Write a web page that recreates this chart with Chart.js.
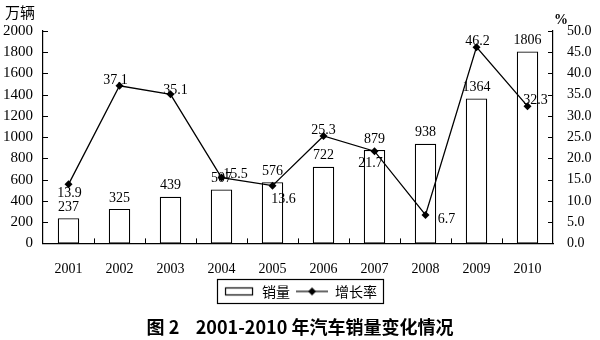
<!DOCTYPE html>
<html>
<head>
<meta charset="utf-8">
<script src="https://cdn.jsdelivr.net/npm/chart.js@4"></script>
<style>
  html, body { margin: 0; padding: 0; background: #fff; }
  #wrap { width: 600px; height: 340px; }
</style>
</head>
<body>
<div id="wrap"><canvas id="salesChart" width="600" height="340"></canvas></div>
<script>
const years = ["2001", "2002", "2003", "2004", "2005", "2006", "2007", "2008", "2009", "2010"];
const sales = [237, 325, 439, 507, 576, 722, 879, 938, 1364, 1806];
const growth = [13.9, 37.1, 35.1, 15.5, 13.6, 25.3, 21.7, 6.7, 46.2, 32.3];

const salesTitle = "销量";
const growthTitle = "增长率";
const leftUnit = "万辆";
const rightUnit = "%";
const chartTitle = "图 2    2001-2010 年汽车销量变化情况";

const numFont = "'Liberation Serif', 'DejaVu Serif', serif";
const cjkFont = "'Noto Sans CJK SC', sans-serif";

// where each growth label sits relative to its point
const growthLabelShift = [
  [1, 9], [-4, -5], [5, -4], [14, -3], [11, 14],
  [0, -6], [-4, 12], [21, 4], [1, -6], [8, -6]
];

// little legend swatches: an open box and a line with a diamond
function makeSwatch(kind) {
  const c = document.createElement("canvas");
  c.width = 32;
  c.height = 12;
  const g = c.getContext("2d");
  g.strokeStyle = "#000";
  g.fillStyle = "#000";
  g.lineWidth = 1.2;
  if (kind === "box") {
    g.strokeRect(2.5, 2.5, 27, 7);
  } else {
    g.beginPath();
    g.moveTo(0, 6);
    g.lineTo(32, 6);
    g.stroke();
    g.beginPath();
    g.moveTo(16, 2);
    g.lineTo(20, 6);
    g.lineTo(16, 10);
    g.lineTo(12, 6);
    g.closePath();
    g.fill();
  }
  return c;
}

const boxSwatch = makeSwatch("box");
const lineSwatch = makeSwatch("line");

// inward tick marks on the three axes
const innerTicks = {
  id: "innerTicks",
  afterDraw(chart) {
    const ctx = chart.ctx;
    const area = chart.chartArea;
    const x = chart.scales.x;
    const y = chart.scales.y;
    const y1 = chart.scales.y1;
    ctx.save();
    ctx.strokeStyle = "#000";
    ctx.lineWidth = 1;
    ctx.beginPath();
    y.ticks.forEach((t) => {
      const py = Math.round(y.getPixelForValue(t.value)) + 0.5;
      ctx.moveTo(area.left, py);
      ctx.lineTo(area.left + 5, py);
    });
    y1.ticks.forEach((t) => {
      const py = Math.round(y1.getPixelForValue(t.value)) + 0.5;
      ctx.moveTo(area.right, py);
      ctx.lineTo(area.right - 5, py);
    });
    const step = x.getPixelForValue(1) - x.getPixelForValue(0);
    for (let i = 1; i < years.length; i++) {
      const px = Math.round(x.getPixelForValue(i) - step / 2) + 0.5;
      ctx.moveTo(px, area.bottom);
      ctx.lineTo(px, area.bottom - 5);
    }
    ctx.stroke();

    // unit captions
    ctx.fillStyle = "#000";
    ctx.font = "15px " + cjkFont;
    ctx.textAlign = "center";
    ctx.textBaseline = "middle";
    ctx.fillText(leftUnit, 20, 12);
    ctx.font = "bold 14px " + numFont;
    ctx.fillText(rightUnit, 561, 20);
    ctx.restore();
  }
};

// value labels over bars and beside points
const valueLabels = {
  id: "valueLabels",
  afterDatasetsDraw(chart) {
    const ctx = chart.ctx;
    ctx.save();
    ctx.fillStyle = "#000";
    ctx.font = "14px " + numFont;
    ctx.textAlign = "center";

    ctx.textBaseline = "bottom";
    chart.getDatasetMeta(0).data.forEach((el, i) => {
      ctx.fillText(String(sales[i]), el.x, el.y - 4);
    });

    ctx.textBaseline = "middle";
    chart.getDatasetMeta(1).data.forEach((el, i) => {
      const s = growthLabelShift[i];
      ctx.fillText(growth[i].toFixed(1), el.x + s[0], el.y + s[1]);
    });
    ctx.restore();
  }
};

// frame around the legend
const legendFrame = {
  id: "legendFrame",
  afterDraw(chart) {
    const boxes = chart.legend.legendHitBoxes;
    if (!boxes || !boxes.length) return;
    const left = Math.min(...boxes.map((b) => b.left)) - 6;
    const right = Math.max(...boxes.map((b) => b.left + b.width)) + 6;
    const top = Math.min(...boxes.map((b) => b.top)) - 5;
    const bottom = Math.max(...boxes.map((b) => b.top + b.height)) + 5;
    const ctx = chart.ctx;
    ctx.save();
    ctx.strokeStyle = "#000";
    ctx.lineWidth = 1.2;
    ctx.strokeRect(Math.round(left) + 0.5, Math.round(top) + 0.5, Math.round(right - left), Math.round(bottom - top));
    ctx.restore();
  }
};

new Chart(document.getElementById("salesChart"), {
  type: "bar",
  data: {
    labels: years,
    datasets: [
      {
        type: "bar",
        label: salesTitle,
        data: sales,
        yAxisID: "y",
        backgroundColor: "#fff",
        borderColor: "#000",
        borderWidth: 1.2,
        borderSkipped: false,
        categoryPercentage: 1,
        barPercentage: 0.42,
        order: 2,
      },
      {
        type: "line",
        label: growthTitle,
        data: growth,
        yAxisID: "y1",
        borderColor: "#000",
        backgroundColor: "#000",
        borderWidth: 1.3,
        pointStyle: "rectRot",
        pointRadius: 4,
        pointBackgroundColor: "#000",
        pointBorderWidth: 0,
        tension: 0,
        order: 1,
      },
    ],
  },
  options: {
    responsive: false,
    animation: false,
    layout: { padding: { top: 31, left: 0, right: 0, bottom: 0 } },
    scales: {
      x: {
        offset: true,
        grid: { display: false, drawTicks: false },
        border: { display: true, color: "#000", width: 1.2 },
        ticks: { color: "#000", font: { family: numFont, size: 14 }, padding: 18 },
        afterFit: (scale) => { scale.height = 35; },
      },
      y: {
        position: "left",
        min: 0,
        max: 2000,
        grid: { display: false, drawTicks: false },
        border: { display: true, color: "#000", width: 1.2 },
        ticks: {
          stepSize: 200,
          color: "#000",
          font: { family: numFont, size: 15 },
          padding: 10,
          callback: (v) => String(v),
        },
        afterFit: (scale) => { scale.width = 43; },
      },
      y1: {
        position: "right",
        min: 0,
        max: 50,
        grid: { display: false, drawTicks: false },
        border: { display: true, color: "#000", width: 1.2 },
        ticks: {
          stepSize: 5,
          color: "#000",
          font: { family: numFont, size: 14 },
          padding: 14,
          callback: (v) => Number(v).toFixed(1),
        },
        afterFit: (scale) => { scale.width = 47; },
      },
    },
    plugins: {
      tooltip: { enabled: false },
      legend: {
        position: "bottom",
        labels: {
          color: "#000",
          font: { family: cjkFont, size: 14 },
          usePointStyle: true,
          pointStyleWidth: 32,
          padding: 6,
          sort: (a, b) => a.datasetIndex - b.datasetIndex,
          generateLabels: (chart) => {
            const items = Chart.defaults.plugins.legend.labels.generateLabels(chart);
            items.forEach((it) => {
              it.pointStyle = it.datasetIndex === 0 ? boxSwatch : lineSwatch;
            });
            return items;
          },
        },
      },
      title: {
        display: true,
        position: "bottom",
        text: chartTitle,
        color: "#000",
        font: { family: cjkFont, size: 18, weight: "bold" },
        padding: { top: 8, bottom: 2 },
      },
    },
  },
  plugins: [innerTicks, valueLabels, legendFrame],
});
</script>
</body>
</html>
